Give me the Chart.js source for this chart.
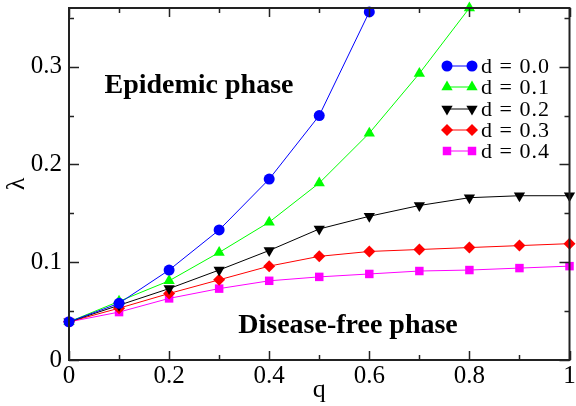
<!DOCTYPE html>
<html>
<head>
<meta charset="utf-8">
<script src="https://cdn.jsdelivr.net/npm/chart.js@4/dist/chart.umd.min.js"></script>
<style>
  html, body { margin: 0; padding: 0; background: #fff; }
  #wrap { width: 576px; height: 406px; }
</style>
</head>
<body>
<div id="wrap"><canvas id="phaseChart" width="576" height="406"></canvas></div>
<script>
// #region [01] Data
const qValues = [0, 0.1, 0.2, 0.3, 0.4, 0.5, 0.6, 0.7, 0.8, 0.9, 1.0];
const lambdaD00 = [0.039, 0.058, 0.092, 0.133, 0.185, 0.250, 0.356];
const lambdaD01 = [0.039, 0.060, 0.081, 0.110, 0.141, 0.181, 0.232, 0.293, 0.360];
const lambdaD02 = [0.039, 0.056, 0.073, 0.092, 0.112, 0.134, 0.147, 0.158, 0.166, 0.168, 0.168];
const lambdaD03 = [0.039, 0.053, 0.068, 0.082, 0.096, 0.106, 0.111, 0.113, 0.115, 0.117, 0.119];
const lambdaD04 = [0.039, 0.049, 0.063, 0.073, 0.081, 0.085, 0.088, 0.091, 0.092, 0.094, 0.096];
const seriesLabels = ['d = 0.0', 'd = 0.1', 'd = 0.2', 'd = 0.3', 'd = 0.4'];
const xTickValues = [0, 0.2, 0.4, 0.6, 0.8, 1];
const yTickValues = [0, 0.1, 0.2, 0.3];
// #endregion

// #region [02] Series styling
const SERIF = "'Liberation Serif'";
const seriesStyles = [
  { color: '#0000ff', pointStyle: 'circle',   radius: 5.5, rotation: 0 },
  { color: '#00ff00', pointStyle: 'triangle', radius: 6.5, rotation: 0 },
  { color: '#000000', pointStyle: 'triangle', radius: 6.5, rotation: 180 },
  { color: '#ff0000', pointStyle: 'rectRot',  radius: 6,   rotation: 0 },
  { color: '#ff00ff', pointStyle: 'rect',     radius: 6,   rotation: 0 }
];

const toPoints = ys => ys.map((y, i) => ({ x: qValues[i], y }));

const datasets = [lambdaD00, lambdaD01, lambdaD02, lambdaD03, lambdaD04].map((ys, i) => ({
  label: seriesLabels[i],
  data: toPoints(ys),
  borderColor: seriesStyles[i].color,
  backgroundColor: seriesStyles[i].color,
  borderWidth: 1,
  pointStyle: seriesStyles[i].pointStyle,
  pointRadius: seriesStyles[i].radius,
  pointRotation: seriesStyles[i].rotation,
  pointBorderWidth: 0,
  pointHoverRadius: seriesStyles[i].radius,
  tension: 0,
  clip: false
}));
// #endregion

// #region [03] Frame, inward ticks, legend and phase labels
const framePlugin = {
  id: 'frame',
  afterDraw(chart) {
    const { ctx, chartArea: a, scales } = chart;
    const xs = scales.x, ys = scales.y;
    ctx.save();
    ctx.strokeStyle = '#222';
    ctx.lineWidth = 2;
    ctx.strokeRect(a.left, a.top, a.right - a.left, a.bottom - a.top);

    ctx.lineWidth = 1.5;
    ctx.beginPath();
    for (let k = 0; k <= 10; k++) {
      const px = Math.round(xs.getPixelForValue(k / 10)) + 0.5;
      const len = k % 2 === 0 ? 9 : 5;
      ctx.moveTo(px, a.bottom); ctx.lineTo(px, a.bottom - len);
      ctx.moveTo(px, a.top); ctx.lineTo(px, a.top + len);
    }
    for (let k = 0; k <= 7; k++) {
      const py = Math.round(ys.getPixelForValue(k * 0.05)) + 0.5;
      const len = k % 2 === 0 ? 10 : 5;
      ctx.moveTo(a.left, py); ctx.lineTo(a.left + len, py);
      ctx.moveTo(a.right, py); ctx.lineTo(a.right - len, py);
    }
    ctx.stroke();

    // legend: line segment with a marker at each end
    const rowY = [66, 87, 109, 130, 151];
    const x0 = 447, x1 = 472;
    chart.data.datasets.forEach((ds, i) => {
      const y = rowY[i];
      ctx.strokeStyle = ds.borderColor;
      ctx.lineWidth = 1;
      ctx.beginPath(); ctx.moveTo(x0, y); ctx.lineTo(x1, y); ctx.stroke();
      const opts = {
        pointStyle: ds.pointStyle, radius: ds.pointRadius, rotation: ds.pointRotation,
        borderWidth: 0
      };
      ctx.fillStyle = ds.backgroundColor;
      ctx.strokeStyle = ds.backgroundColor;
      Chart.helpers.drawPoint(ctx, opts, x0, y);
      Chart.helpers.drawPoint(ctx, opts, x1, y);
      ctx.fillStyle = '#000';
      ctx.font = '22px ' + SERIF;
      ctx.letterSpacing = '1px';
      ctx.textBaseline = 'middle';
      ctx.textAlign = 'left';
      ctx.fillText(ds.label, 481, y + 1);
    });
    ctx.letterSpacing = '0px';

    ctx.font = 'bold 28px ' + SERIF;
    ctx.textAlign = 'center';
    ctx.textBaseline = 'middle';
    ctx.fillStyle = '#000';
    ctx.fillText('Epidemic phase', 199, 86);
    ctx.fillText('Disease-free phase', 348, 326);
    ctx.restore();
  }
};
// #endregion

// #region [04] Chart
const fmt = v => (v === 0 || v === 1) ? String(v) : v.toFixed(1);

new Chart(document.getElementById('phaseChart'), {
  type: 'line',
  data: { datasets },
  options: {
    responsive: false,
    animation: false,
    layout: { padding: { left: 0, right: 4, top: 8, bottom: 0 } },
    plugins: { legend: { display: false }, tooltip: { enabled: false } },
    scales: {
      x: {
        type: 'linear',
        min: 0, max: 1,
        afterFit: s => { s.height = 46; s.paddingLeft = 0; s.paddingRight = 0; },
        afterBuildTicks: s => { s.ticks = xTickValues.map(value => ({ value })); },
        grid: { display: false, drawTicks: false },
        border: { display: false },
        ticks: {
          autoSkip: false, maxRotation: 0, padding: 1,
          color: '#000', font: { family: SERIF, size: 25 },
          callback: v => fmt(v)
        },
        title: {
          display: true, text: 'q', color: '#000',
          font: { family: SERIF, size: 26 },
          padding: { top: 0, bottom: 0 }
        }
      },
      y: {
        min: 0, max: 0.36,
        afterFit: s => { s.width = 69; s.paddingTop = 0; s.paddingBottom = 0; },
        afterBuildTicks: s => { s.ticks = yTickValues.map(value => ({ value })); },
        grid: { display: false, drawTicks: false },
        border: { display: false },
        ticks: {
          autoSkip: false, padding: 7,
          color: '#000', font: { family: SERIF, size: 25 },
          callback: v => fmt(v)
        },
        title: {
          display: true, text: 'λ', color: '#000',
          font: { family: SERIF, size: 26 },
          padding: { top: 2, bottom: 0 }
        }
      }
    }
  },
  plugins: [framePlugin]
});
// #endregion
</script>
</body>
</html>
